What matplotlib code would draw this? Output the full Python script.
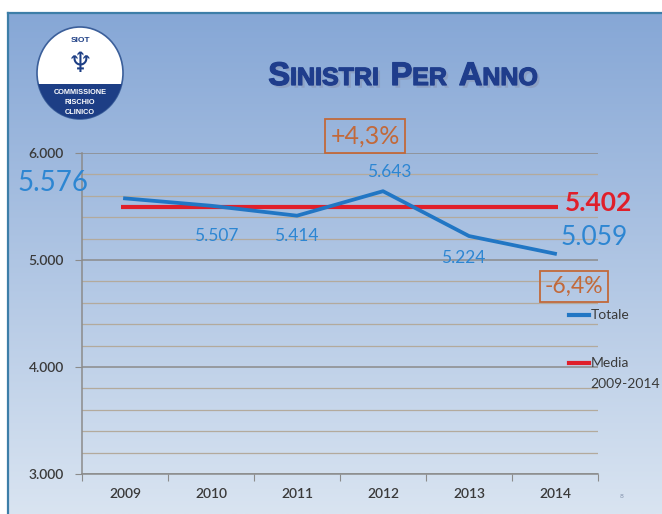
import numpy as np
import matplotlib.pyplot as plt
import matplotlib.patheffects as pe
from matplotlib.patches import Ellipse, Rectangle
from matplotlib.ticker import MultipleLocator

# dati
anni = ["2009", "2010", "2011", "2012", "2013", "2014"]
totale = [5576, 5507, 5414, 5643, 5224, 5059]
etichette = ["5.576", "5.507", "5.414", "5.643", "5.224", "5.059"]
media_label = "5.402"
media_linea = 5500          # la linea rossa nel grafico originale sta qui
variazioni = ["+4,3%", "-6,4%"]
y_ticks = [3000, 4000, 5000, 6000]
y_labels = ["3.000", "4.000", "5.000", "6.000"]

BLU = "#2176c4"
BLU_TXT = "#2d86d2"
ROSSO = "#e01f2a"
ARANCIO = "#c2693a"
GRIGIO = "#3a3a3a"
FONT = "Lato"

W, H = 662, 514
fig = plt.figure(figsize=(W / 100, H / 100), dpi=100)

# ---- sfondo con gradiente e cornice (coordinate in pixel) ----
bg = fig.add_axes([0, 0, 1, 1], zorder=-10)
bg.set_xlim(0, W)
bg.set_ylim(H, 0)
bg.axis("off")
top = np.array([0x86, 0xa7, 0xd6]) / 255
bottom = np.array([0xd9, 0xe4, 0xf1]) / 255
g = np.linspace(0, 1, 256)[:, None, None]
img = top + (bottom - top) * g
bg.imshow(img, extent=[8, W, H, 13], aspect="auto")
bg.plot([8, 8], [13, H], color="#3d7ea8", lw=1.6)
bg.plot([8, W], [13, 13], color="#3d7ea8", lw=1.6)

# logo
ell = Ellipse((80, 73), 86, 92, fc="white", ec="#3b5f9a", lw=1.2)
bg.add_patch(ell)
dark = Rectangle((30, 84), 100, 50, fc="#1d3e85", ec="none")
bg.add_patch(dark)
dark.set_clip_path(ell)
bg.text(80, 41, "SIOT", ha="center", va="center", fontsize=6, color="#1d3e85",
        fontweight="bold", family="Liberation Sans")
bg.text(80, 64, "\u2646", ha="center", va="center", fontsize=20, color="#1d3e85",
        family="DejaVu Sans")
for yy, t in zip([92, 102, 112], ["COMMISSIONE", "RISCHIO", "CLINICO"]):
    bg.text(80, yy, t, ha="center", va="center", fontsize=5.3, color="white",
            fontweight="bold", family="Liberation Sans")

# titolo in maiuscoletto
r = fig.canvas.get_renderer()
parole = [("S", "INISTRI"), ("P", "ER"), ("A", "NNO")]
big, small, gap = 23.5, 18, 12
effetti = [pe.SimplePatchShadow(offset=(2, -2), shadow_rgbFace="#8a9aba", alpha=0.7),
           pe.withStroke(linewidth=0.9, foreground="#1f3d8c")]
pezzi = []
for a, b in parole:
    for s, fs in [(a, big), (b, small)]:
        t = bg.text(0, 85, s, fontsize=fs, fontweight="bold", family="Liberation Sans",
                    color="#1f3d8c", va="baseline", ha="left", path_effects=effetti)
        pezzi.append((t, t.get_window_extent(r).width))
    pezzi.append((None, gap))
larghezza = sum(w for _, w in pezzi[:-1])
x = 403 - larghezza / 2
for t, w in pezzi:
    if t is not None:
        t.set_x(x)
    x += w

bg.text(622, 496, "8", fontsize=4.5, color="#8494ad", ha="center", va="center")

# ---- grafico ----
ax = fig.add_axes([82 / W, 1 - 474 / H, (598 - 82) / W, (474 - 153) / H])
ax.patch.set_alpha(0)
xs = np.arange(len(anni))

ax.set_xlim(-0.5, len(anni) - 0.5)
ax.set_ylim(3000, 6000)
ax.set_yticks(y_ticks)
ax.set_yticklabels(y_labels)
ax.yaxis.set_minor_locator(MultipleLocator(200))
ax.grid(axis="y", which="major", color="#8b8b8b", lw=1.1)
ax.grid(axis="y", which="minor", color="#b3aa9c", lw=0.9)
ax.tick_params(axis="y", which="minor", length=0)
ax.tick_params(axis="y", which="major", length=5, color="#8b8b8b", pad=8,
               labelsize=10, labelcolor=GRIGIO)
ax.set_xticks(np.arange(-0.5, len(anni), 1))
ax.set_xticklabels([])
ax.set_xticks(xs, minor=True)
ax.set_xticklabels(anni, minor=True)
ax.tick_params(axis="x", which="major", length=5, color="#8b8b8b")
ax.tick_params(axis="x", which="minor", length=0, pad=10, labelsize=10, labelcolor=GRIGIO)
for lab in ax.get_xticklabels(minor=True) + ax.get_yticklabels():
    lab.set_family(FONT)
    lab.set_fontweight("semibold")
for sp in ["top", "right"]:
    ax.spines[sp].set_visible(False)
for sp in ["left", "bottom"]:
    ax.spines[sp].set_color("#8b8b8b")
    ax.spines[sp].set_linewidth(1.1)
ax.set_axisbelow(True)

ax.hlines(media_linea, -0.05, xs[-1] + 0.03, color=ROSSO, lw=3, zorder=3)
ax.plot(xs, totale, color=BLU, lw=2.7, zorder=4)

# etichette dei valori (offset in punti)
offs = [(-52, 11), (3.6, -22), (-0.7, -14.4), (4.3, 13.5), (-4.3, -15.5), (28.5, 11.5)]
sizes = [20, 12.5, 12.5, 12.5, 12.5, 19]
for i in range(len(anni)):
    ax.annotate(etichette[i], (xs[i], totale[i]), xytext=offs[i], textcoords="offset points",
                ha="center", va="center", fontsize=sizes[i], color=BLU_TXT, family=FONT,
                annotation_clip=False)

ax.annotate(media_label, (xs[-1], media_linea), xytext=(31.7, 2.5), textcoords="offset points",
            ha="center", va="center", fontsize=19, fontweight="bold", color=ROSSO,
            family=FONT, annotation_clip=False)

box = dict(boxstyle="square,pad=0.22", fc="none", ec=ARANCIO, lw=1.3)
ax.annotate(variazioni[0], (xs[3], totale[3]), xytext=(-13, 39.6), textcoords="offset points",
            ha="center", va="center", fontsize=18, color=ARANCIO, family=FONT, bbox=box,
            annotation_clip=False)
ax.annotate(variazioni[1], (xs[5], totale[5]), xytext=(13.7, -23.3), textcoords="offset points",
            ha="center", va="center", fontsize=16.5, color=ARANCIO, family=FONT, bbox=box,
            annotation_clip=False)

# legenda
ax.plot([0.944, 0.983], [0.495, 0.495], transform=ax.transAxes, color=BLU, lw=3,
        clip_on=False)
ax.text(0.985, 0.495, "Totale", transform=ax.transAxes, va="center", ha="left",
        fontsize=10, color=GRIGIO, family=FONT)
ax.plot([0.944, 0.983], [0.346, 0.346], transform=ax.transAxes, color=ROSSO, lw=3,
        clip_on=False)
ax.text(0.985, 0.346, "Media", transform=ax.transAxes, va="center", ha="left",
        fontsize=10, color=GRIGIO, family=FONT)
ax.text(0.985, 0.280, "2009-2014", transform=ax.transAxes, va="center", ha="left",
        fontsize=10, color=GRIGIO, family=FONT)

plt.savefig("out.png", dpi=100)
